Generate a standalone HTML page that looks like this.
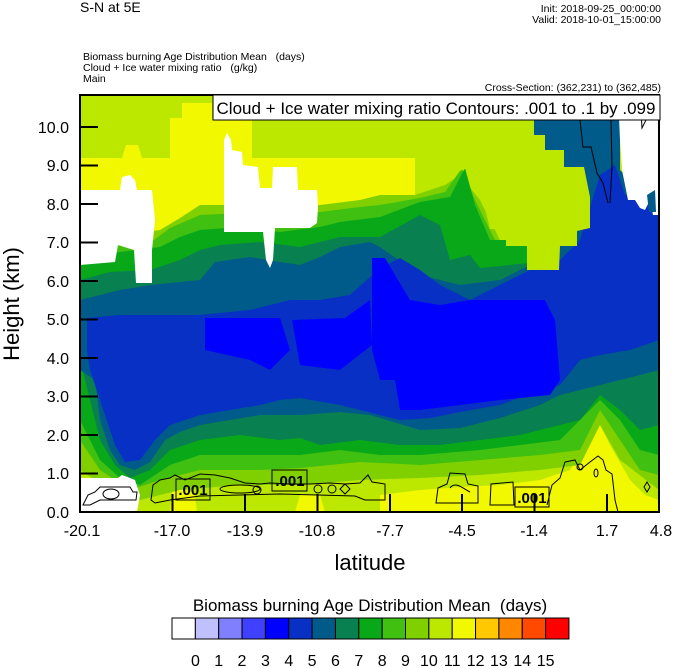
<!DOCTYPE html>
<html><head><meta charset="utf-8"><style>
html,body{margin:0;padding:0;background:#fff}
svg{display:block;font-family:"Liberation Sans",sans-serif}
</style></head><body>
<svg width="674" height="668" viewBox="0 0 674 668" xmlns="http://www.w3.org/2000/svg">
<defs><clipPath id="pc"><rect x="80" y="95" width="579" height="417"/></clipPath></defs>
<g clip-path="url(#pc)">
<rect x="80" y="95" width="579" height="417" fill="#bce800"/>
<polygon fill="#f2f800" points="80,158 122,158 126,145 138,145 142,158 170,158 170,118 182,118 182,103 212,103 212,118 252,118 252,158 415,158 415,195 380,200 80,250"/>
<polygon fill="#f2f800" points="380,512 380,495 420,490 460,487 500,485 540,480 570,470 590,440 600,425 610,445 630,480 645,495 659,500 659,512"/>
<polygon fill="#f2f800" points="170,512 172,492 185,488 195,495 197,512"/>
<polygon fill="#f2f800" points="295,512 300,495 320,495 325,512"/>
<polygon fill="#80d000" points="80,240 160,230 180,218 200,205 240,205 280,210 320,205 360,200 380,195 415,195 445,185 460,175 480,200 500,240 560,240 600,230 659,230 659,490 620,460 600,425 580,465 540,470 480,475 420,478 360,480 300,485 240,485 180,490 140,500 110,490 80,470"/>
<polygon fill="#40c010" points="80,248 150,243 170,228 200,215 240,213 280,217 320,212 360,207 380,205 420,198 445,192 462,168 475,200 495,240 659,240 659,475 640,470 620,440 600,410 580,450 540,455 480,460 420,465 360,462 300,468 260,470 200,470 160,480 130,490 100,470 80,440"/>
<polygon fill="#08a818" points="80,258 120,252 160,247 180,237 200,230 240,227 280,232 320,227 340,222 380,217 420,202 450,197 465,168 475,205 490,240 659,240 659,455 640,450 620,420 600,400 560,440 520,445 480,450 420,455 380,455 340,450 300,455 200,455 170,465 140,485 120,478 100,460 80,420"/>
<polygon fill="#088050" points="80,280 110,272 150,270 165,265 180,260 200,250 220,245 260,242 300,247 340,237 380,237 420,215 440,225 450,260 470,255 480,268 659,250 659,425 640,430 620,410 600,395 580,420 560,425 520,435 480,440 440,445 400,445 360,440 320,445 300,438 280,440 240,435 200,440 170,450 150,470 130,478 115,465 100,440 90,400 80,360"/>
<polygon fill="#005a8a" points="80,300 100,295 120,290 150,285 200,280 215,262 250,257 280,262 300,265 320,257 340,247 370,242 380,247 420,275 460,285 500,280 530,265 530,95 620,95 620,170 640,190 659,190 659,370 640,375 620,380 600,385 580,390 560,395 540,405 500,418 460,428 420,430 370,415 340,412 300,415 260,415 230,420 200,425 180,432 165,440 150,462 135,470 120,465 110,450 100,420 95,380 80,370"/>
<polygon fill="#0830c4" points="87,318 120,315 200,315 250,310 290,300 320,300 350,295 380,268 400,258 420,270 440,285 470,300 500,285 530,270 560,260 580,240 600,175 615,165 625,195 640,195 659,210 659,340 630,350 600,355 580,360 560,385 540,390 500,405 460,412 430,418 400,420 380,415 340,405 300,398 280,400 260,405 230,410 200,415 170,425 155,440 140,460 125,462 115,445 100,400 90,370 87,350"/>
<polygon fill="#0000ff" points="372,258 385,258 395,275 410,300 440,305 470,300 500,300 545,300 555,320 560,380 550,395 500,400 460,405 420,410 400,410 395,380 380,380 372,350"/>
<polygon fill="#0000ff" points="205,318 280,318 290,350 270,370 250,360 205,350"/>
<polygon fill="#0000ff" points="292,320 345,318 370,300 372,345 340,370 300,365"/>
<polygon fill="#bce800" points="440,95 534,95 534,135 545,135 545,150 564,150 564,167 584,167 590,197 590,228 577,231 577,246 560,246 559,270 527,270 527,246 506,246 506,229 490,229 484,204 471,167 451,174 440,174"/>
<polygon fill="#fff" points="80,190 120,190 122,177 130,175 135,180 137,190 152,190 155,220 152,250 152,283 136,283 134,250 118,245 115,262 80,265"/>
<polygon fill="#fff" points="224,140 227,133 231,140 232,150 242,152 243,165 258,167 260,188 272,188 273,167 297,167 298,190 317,190 318,207 317,223 310,228 275,228 273,260 270,268 266,260 263,232 224,232"/>
<polygon fill="#fff" points="618,95 659,95 659,215 653,215 650,200 645,210 640,208 635,200 628,200 622,170 620,140"/>
<polygon fill="#005a8a" points="647,195 655,190 656,212 649,212"/>
<polygon fill="#fff" points="80,478 118,478 122,475 130,478 135,480 140,495 137,512 80,512"/>
<g fill="none" stroke="#000" stroke-width="1">
<polyline points="579,95 580,120 583,147 591,147 597,173 603,183 608,203"/>
<polyline points="611,95 611,120 612,167 610,203"/>
<path d="M630,95 L632,110 635,107 636,95 M640,95 L642,128 646,120 648,95"/>
<path d="M83,505 L88,495 95,492 100,487 130,487 133,492 137,492 136,500 100,500 90,505 Z"/>
<ellipse cx="111" cy="494" rx="8" ry="5"/>
<path d="M151,500 L153,485 160,480 170,478 175,475 185,480 200,474 215,475 230,478 245,483 260,484 270,483 290,484 310,484 330,483 345,484 360,483 365,478 368,475 372,482 385,484 385,500 365,500 355,496 280,494 200,496 170,500 155,503 Z"/>
<ellipse cx="240" cy="489" rx="20" ry="4"/>
<circle cx="257" cy="490" r="4"/><circle cx="318" cy="489" r="4"/><circle cx="332" cy="489" r="4"/>
<path d="M345,484 L350,489 345,494 340,489 Z"/>
<path d="M436,503 L438,488 447,484 450,473 465,474 468,484 478,486 478,503 Z"/>
<path d="M450,488 C455,480 465,490 470,492"/>
<path d="M490,505 L491,484 513,482 514,505 Z"/>
<path d="M547,505 L552,485 560,478 565,462 575,460 580,470 590,462 598,456 603,460 606,470 612,474 615,500 618,512"/>
<circle cx="580" cy="467" r="3"/><ellipse cx="596" cy="473" rx="2" ry="4"/>
<path d="M647,482 L650,487 647,492 644,487 Z"/>
</g>
<g font-size="15" font-weight="bold">
<rect x="176" y="479" width="34" height="21" fill="none" stroke="#000"/>
<text x="193" y="495" text-anchor="middle">.001</text>
<rect x="272" y="470" width="35" height="21" fill="none" stroke="#000"/>
<text x="290" y="486" text-anchor="middle">.001</text>
<rect x="515" y="487" width="34" height="20" fill="none" stroke="#000"/>
<text x="532" y="503" text-anchor="middle">.001</text>
</g>
</g>
<rect x="80" y="95" width="579" height="417" fill="none" stroke="#000" stroke-width="2"/>
<rect x="213" y="95" width="447" height="25" fill="#fff" stroke="#000" stroke-width="1"/>
<text x="436" y="114" font-size="17" text-anchor="middle">Cloud + Ice water mixing ratio Contours: .001 to .1 by .099</text>
<g stroke="#000" stroke-width="2">
<line x1="80" y1="127" x2="98" y2="127"/><line x1="80" y1="165.5" x2="98" y2="165.5"/><line x1="80" y1="204" x2="98" y2="204"/><line x1="80" y1="242.5" x2="98" y2="242.5"/><line x1="80" y1="281" x2="98" y2="281"/><line x1="80" y1="319.5" x2="98" y2="319.5"/><line x1="80" y1="358" x2="98" y2="358"/><line x1="80" y1="396.5" x2="98" y2="396.5"/><line x1="80" y1="435" x2="98" y2="435"/><line x1="80" y1="473.5" x2="98" y2="473.5"/>
<line x1="172.5" y1="512" x2="172.5" y2="494"/><line x1="245" y1="512" x2="245" y2="494"/><line x1="317.5" y1="512" x2="317.5" y2="494"/><line x1="390" y1="512" x2="390" y2="494"/><line x1="462" y1="512" x2="462" y2="494"/><line x1="534.5" y1="512" x2="534.5" y2="494"/><line x1="607" y1="512" x2="607" y2="494"/>
</g>
<g font-size="16" text-anchor="end">
<text x="69" y="133">10.0</text><text x="69" y="171">9.0</text><text x="69" y="210">8.0</text><text x="69" y="248">7.0</text><text x="69" y="287">6.0</text><text x="69" y="325">5.0</text><text x="69" y="364">4.0</text><text x="69" y="402">3.0</text><text x="69" y="441">2.0</text><text x="69" y="479">1.0</text><text x="69" y="518">0.0</text>
</g>
<g font-size="16" text-anchor="middle">
<text x="82" y="536">-20.1</text><text x="172" y="536">-17.0</text><text x="245" y="536">-13.9</text><text x="317" y="536">-10.8</text><text x="390" y="536">-7.7</text><text x="462" y="536">-4.5</text><text x="534" y="536">-1.4</text><text x="607" y="536">1.7</text><text x="661" y="536">4.8</text>
</g>
<text x="370" y="570" font-size="22" text-anchor="middle">latitude</text>
<text transform="translate(19,304) rotate(-90)" font-size="22" text-anchor="middle">Height (km)</text>
<text x="80" y="12" font-size="14">S-N at 5E</text>
<g font-size="10.5">
<text x="661" y="12" text-anchor="end">Init: 2018-09-25_00:00:00</text>
<text x="661" y="23" text-anchor="end">Valid: 2018-10-01_15:00:00</text>
<text x="83" y="60" xml:space="preserve">Biomass burning Age Distribution Mean   (days)</text>
<text x="83" y="71" xml:space="preserve">Cloud + Ice water mixing ratio   (g/kg)</text>
<text x="83" y="82">Main</text>
<text x="661" y="91" text-anchor="end">Cross-Section: (362,231) to (362,485)</text>
</g>
<text x="370" y="611" font-size="17" text-anchor="middle" xml:space="preserve">Biomass burning Age Distribution Mean  (days)</text>
<g stroke="#000" stroke-width="1">
<rect x="172" y="618" width="23.35" height="21" fill="#ffffff"/>
<rect x="195.35" y="618" width="23.35" height="21" fill="#c0c0ff"/>
<rect x="218.7" y="618" width="23.35" height="21" fill="#8080ff"/>
<rect x="242.05" y="618" width="23.35" height="21" fill="#4040ff"/>
<rect x="265.4" y="618" width="23.35" height="21" fill="#0000ff"/>
<rect x="288.75" y="618" width="23.35" height="21" fill="#0830c4"/>
<rect x="312.1" y="618" width="23.35" height="21" fill="#005a8a"/>
<rect x="335.45" y="618" width="23.35" height="21" fill="#088050"/>
<rect x="358.8" y="618" width="23.35" height="21" fill="#08a818"/>
<rect x="382.15" y="618" width="23.35" height="21" fill="#40c010"/>
<rect x="405.5" y="618" width="23.35" height="21" fill="#80d000"/>
<rect x="428.85" y="618" width="23.35" height="21" fill="#bce800"/>
<rect x="452.2" y="618" width="23.35" height="21" fill="#f2f800"/>
<rect x="475.55" y="618" width="23.35" height="21" fill="#ffc800"/>
<rect x="498.9" y="618" width="23.35" height="21" fill="#ff8800"/>
<rect x="522.25" y="618" width="23.35" height="21" fill="#ff4800"/>
<rect x="545.6" y="618" width="23.35" height="21" fill="#ff0000"/>
</g>
<g font-size="16" text-anchor="middle">
<text x="195.4" y="666">0</text><text x="218.7" y="666">1</text><text x="242" y="666">2</text><text x="265.4" y="666">3</text><text x="288.8" y="666">4</text><text x="312.1" y="666">5</text><text x="335.5" y="666">6</text><text x="358.8" y="666">7</text><text x="382.2" y="666">8</text><text x="405.5" y="666">9</text><text x="428.9" y="666">10</text><text x="452.2" y="666">11</text><text x="475.6" y="666">12</text><text x="498.9" y="666">13</text><text x="522.3" y="666">14</text><text x="545.6" y="666">15</text>
</g>
</svg>
</body></html>
